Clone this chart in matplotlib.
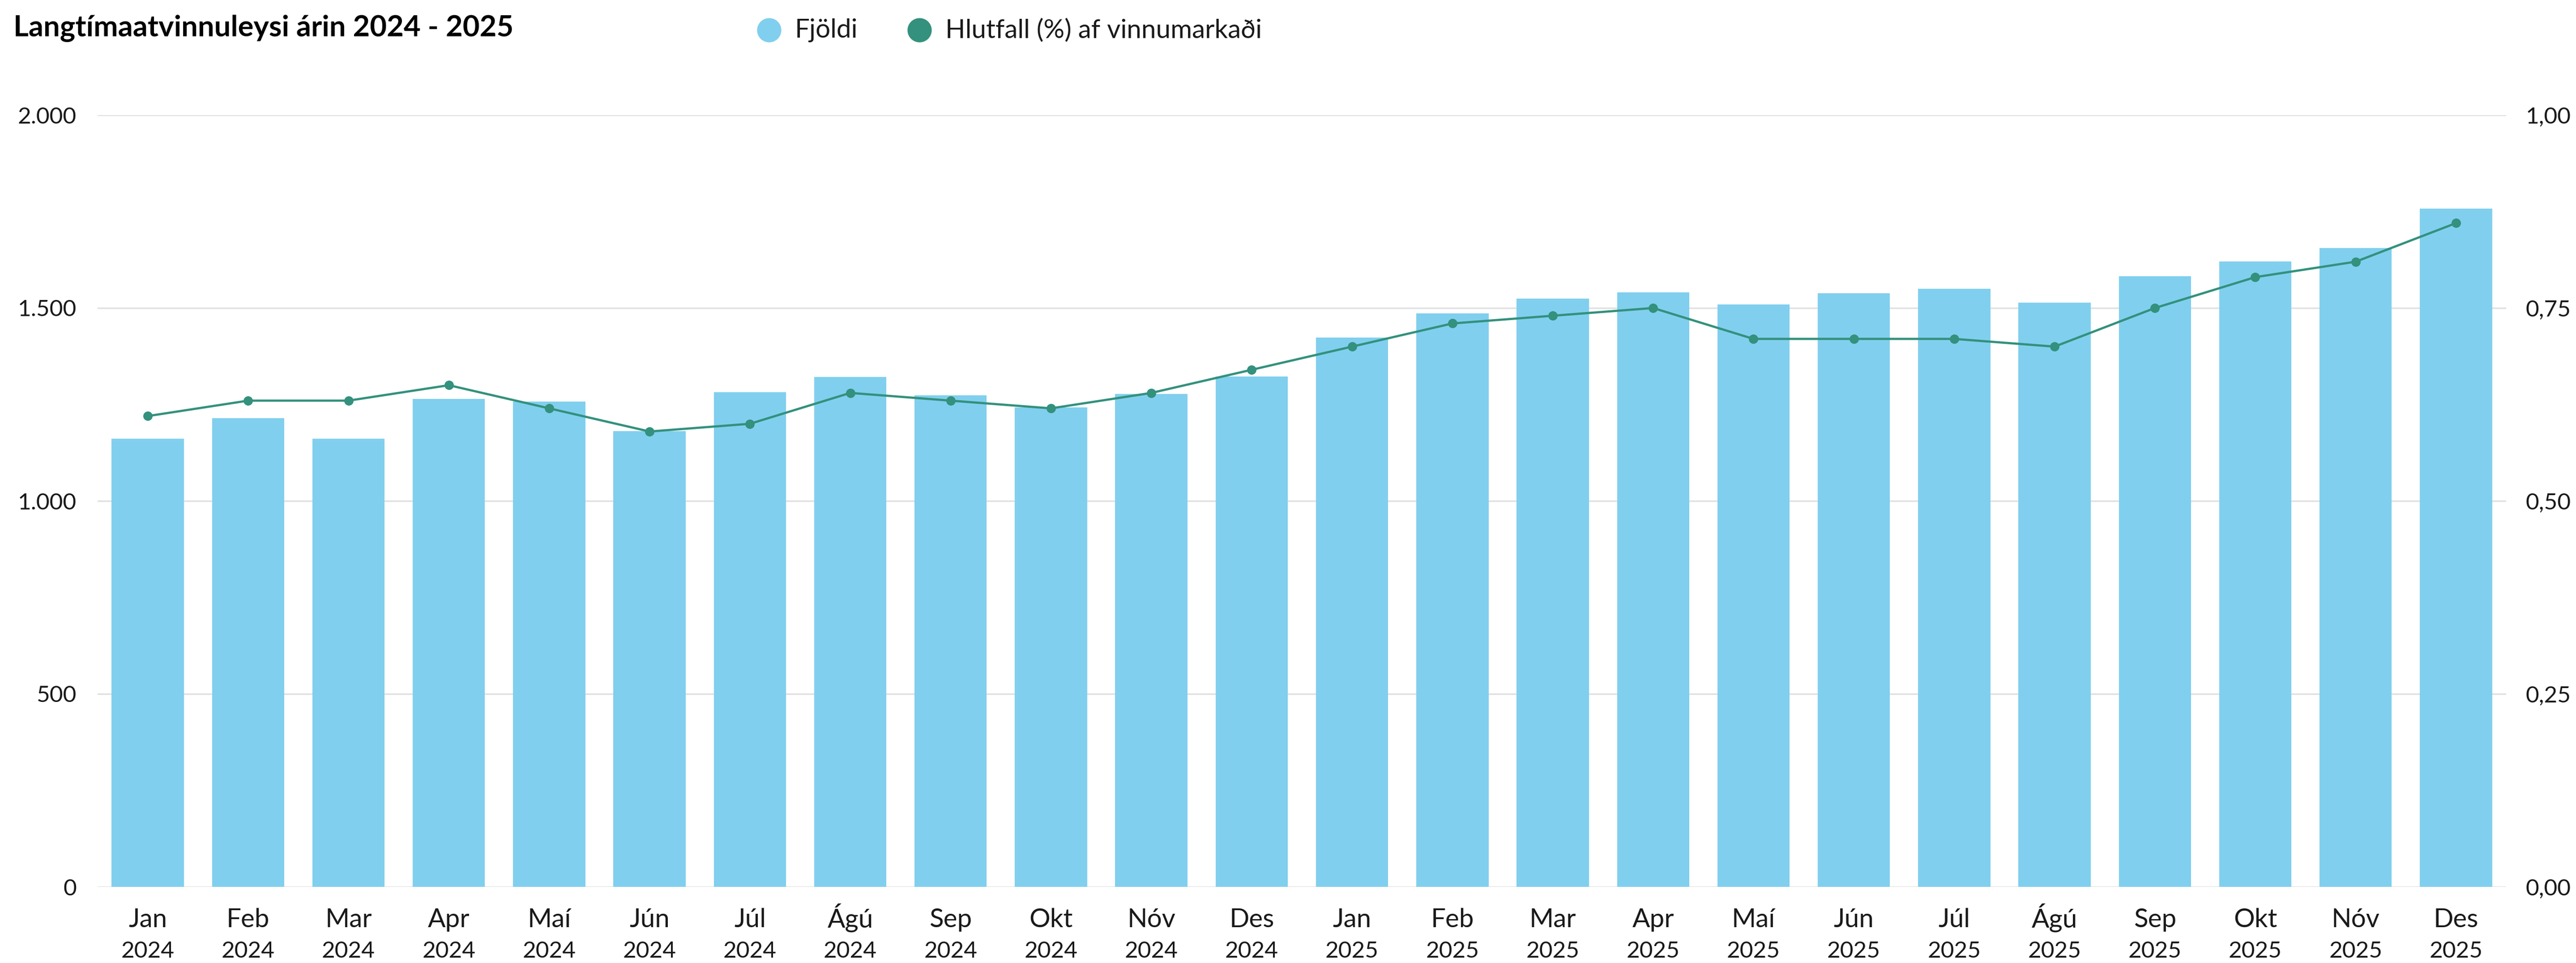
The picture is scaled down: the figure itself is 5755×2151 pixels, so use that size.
import numpy as np
import matplotlib.pyplot as plt
from matplotlib.ticker import FuncFormatter
from matplotlib.lines import Line2D

plt.rcParams['font.family'] = ['Lato', 'DejaVu Sans']

# Monthly data 2024 - 2025
months = ["Jan", "Feb", "Mar", "Apr", "Maí", "Jún", "Júl", "Ágú", "Sep", "Okt", "Nóv", "Des"] * 2
years = ["2024"] * 12 + ["2025"] * 12

fjoldi = [1161, 1215, 1161, 1265, 1258, 1181, 1282, 1321, 1274, 1243, 1277, 1322,
          1423, 1486, 1524, 1541, 1509, 1538, 1550, 1514, 1582, 1621, 1656, 1758]
hlutfall = [0.61, 0.63, 0.63, 0.65, 0.62, 0.59, 0.60, 0.64, 0.63, 0.62, 0.64, 0.67,
            0.70, 0.73, 0.74, 0.75, 0.71, 0.71, 0.71, 0.70, 0.75, 0.79, 0.81, 0.86]

bar_color = "#81CFEE"
line_color = "#33917D"
text_color = "#1a1a1a"

W, H = 5755, 2151
fig = plt.figure(figsize=(W / 100, H / 100), dpi=100)
ax = fig.add_axes([218 / W, (H - 1981) / H, (5599 - 218) / W, (1981 - 257) / H])
ax2 = ax.twinx()

x = np.arange(len(fjoldi))
ax.bar(x, fjoldi, width=0.72, color=bar_color, zorder=2)
ax2.plot(x, hlutfall, color=line_color, linewidth=3.6, marker="o", markersize=14, zorder=3)

ax.set_xlim(-0.5, len(fjoldi) - 0.5)
ax.set_ylim(0, 2000)
ax2.set_ylim(0, 1.0)
ax.set_yticks([0, 500, 1000, 1500, 2000])
ax2.set_yticks([0, 0.25, 0.5, 0.75, 1.0])
ax.yaxis.set_major_formatter(FuncFormatter(lambda v, p: f"{int(v):,}".replace(",", ".")))
ax2.yaxis.set_major_formatter(FuncFormatter(lambda v, p: f"{v:.2f}".replace(".", ",")))
ax.tick_params(axis="y", labelsize=37, colors=text_color, length=0, pad=34)
ax2.tick_params(axis="y", labelsize=37, colors=text_color, length=0, pad=104)
for lbl in ax2.get_yticklabels():
    lbl.set_horizontalalignment("right")

# month on first row, year on second row
ax.set_xticks(x)
ax.set_xticklabels(months, fontsize=42, color=text_color, va="baseline")
ax.tick_params(axis="x", length=0, pad=65)
sec = ax.secondary_xaxis("bottom")
sec.set_xticks(x, labels=years, fontsize=37, color=text_color, va="baseline")
sec.tick_params(axis="x", length=0, pad=114)
sec.spines["bottom"].set_visible(False)

ax.grid(axis="y", color="#e0e0e0", linewidth=2.5, zorder=0)
ax.set_axisbelow(True)
for a in (ax, ax2):
    for s in a.spines.values():
        s.set_visible(False)
ax2.set_zorder(ax.get_zorder() + 1)
ax2.patch.set_visible(False)

fig.text(30 / W, 1 - 81 / H, "Langtímaatvinnuleysi árin 2024 - 2025", fontsize=47,
         fontweight="bold", color="black", va="baseline", ha="left")

# legend
legend_items = [("Fjöldi", bar_color, 1718, 1776), ("Hlutfall (%) af vinnumarkaði", line_color, 2054, 2112)]
for label, col, mx, tx in legend_items:
    fig.add_artist(Line2D([mx / W], [1 - 67 / H], transform=fig.transFigure, linestyle="none",
                          marker="o", markersize=38, color=col))
    fig.text(tx / W, 1 - 84 / H, label, fontsize=42, color=text_color, va="baseline", ha="left")

plt.savefig("out.png", dpi=100)
